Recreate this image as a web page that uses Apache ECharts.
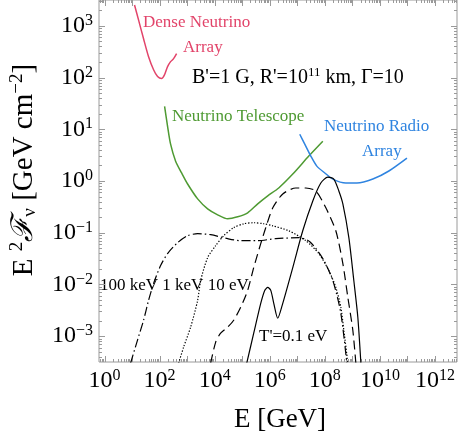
<!DOCTYPE html>
<html><head><meta charset="utf-8">
<script src="https://cdn.jsdelivr.net/npm/echarts@6/dist/echarts.min.js"></script>
<style>html,body{margin:0;padding:0;background:#fff}#c{width:459px;height:438px}</style>
</head><body><div id="c"></div>
<script>
// ---- data (E in GeV, E^2 F in GeV cm^-2) ----
const denseE = [12.3, 17.2, 26.2, 39.8, 60.5, 84.6, 118, 152, 195, 251, 323, 415];
const denseF = [2535, 1304, 562, 253, 142, 105, 95.7, 114, 163, 203, 232, 290];

const telE = [152, 195, 251, 382, 631, 1042, 2410, 5560, 12850, 29700, 68600, 158000, 366000, 846000, 2.12e6, 6.86e6, 2.62e7, 8.46e7];
const telF = [27.7, 11.4, 5.15, 2.42, 1.43, 0.875, 0.451, 0.29, 0.222, 0.186, 0.203, 0.243, 0.361, 0.515, 0.733, 1.36, 3.03, 5.87];

const radioE = [1.23e7, 1.87e7, 3.1e7, 5.12e7, 1.0e8, 1.95e8, 5.8e8, 1.46e9, 5.56e9, 2.12e10, 9.6e10];
const radioF = [8.01, 5.15, 3.03, 1.94, 1.43, 1.09, 0.915, 0.915, 1.09, 1.56, 2.77];

const t01E = [1.46e5, 2.62e5, 4.71e5, 6.58e5, 8.46e5, 1.09e6, 1.4e6, 1.95e6, 2.97e6, 6.86e6, 1.58e7, 3.66e7, 7.16e7, 1.29e8, 2.12e8, 3.23e8, 4.52e8, 7.46e8, 1.13e9, 1.58e9, 2.04e9];
const t01F = [3.0e-4, 1.14e-3, 4.31e-3, 7.67e-3, 8.75e-3, 7.67e-3, 4.31e-3, 2.22e-3, 4.31e-3, 0.0212, 0.109, 0.412, 0.915, 1.19, 1.09, 0.642, 0.361, 0.0801, 0.0119, 2.32e-3, 3.0e-4];

const t10E = [7160, 10900, 16500, 29700, 49100, 88200, 158000, 262000, 471000, 716000, 1.29e6, 2.97e6, 8.82e6, 2.04e7, 4.71e7, 1.09e8, 2.51e8, 4.52e8, 6.86e8, 1.04e9, 1.34e9];
const t10F = [3.0e-4, 7.67e-4, 1.14e-3, 1.49e-3, 2.03e-3, 3.61e-3, 7.67e-3, 0.0212, 0.0614, 0.125, 0.303, 0.562, 0.733, 0.733, 0.642, 0.303, 0.109, 0.0253, 5.62e-3, 1.3e-3, 3.0e-4];

const t1kE = [491, 746, 1340, 2410, 3100, 5560, 10900, 21200, 49100, 113000, 262000, 605000, 1.29e6, 4.91e6, 2.04e7, 6.05e7, 1.4e8, 2.51e8, 3.82e8, 4.91e8, 6.86e8];
const t1kF = [3.0e-4, 6.14e-4, 1.49e-3, 4.92e-3, 0.0119, 0.033, 0.0562, 0.0875, 0.125, 0.149, 0.156, 0.149, 0.136, 0.109, 0.0702, 0.0395, 0.0186, 8.75e-3, 3.61e-3, 1.3e-3, 3.0e-4];

const t100kE = [8.82, 15.8, 26.2, 39.8, 60.5, 109, 195, 452, 1042, 2410, 7160, 29700, 88200, 366000, 1.65e6, 1.14e7, 2.85e7, 8.46e7, 1.95e8, 3.82e8, 6.3e8];
const t100kF = [3.0e-4, 8.38e-4, 2.03e-3, 4.92e-3, 0.0104, 0.0232, 0.0395, 0.0642, 0.0875, 0.0957, 0.0916, 0.0767, 0.0702, 0.0702, 0.0767, 0.0801, 0.0671, 0.0316, 0.0119, 2.77e-3, 3.0e-4];

// axis ticks (exponents)
const xMajorExp = [0,1,2,3,4,5,6,7,8,9,10,11,12];
const xLabelExp = [0,2,4,6,8,10,12];
const yMajorExp = [-3,-2,-1,0,1,2,3];
const yLabelExp = [-3,-2,-1,0,1,2,3];
const minorMult = [2,3,4,5,6,7,8,9];

const X_MIN = Math.pow(10, -0.2), X_MAX = Math.pow(10, 12.8);
const Y_MIN = Math.pow(10, -3.5), Y_MAX = Math.pow(10, 3.5);

const FONT = "'Liberation Serif','DejaVu Serif',serif";
const zip = (a, b) => a.map((v, i) => [v, b[i]]);

// tick list
const ticks = [];
xMajorExp.forEach(e => {
  ticks.push({ax: 'x', v: Math.pow(10, e), len: 6});
  minorMult.forEach(m => { const v = m * Math.pow(10, e); if (v < X_MAX) ticks.push({ax: 'x', v: v, len: 3}); });
});
minorMult.forEach(m => { const v = m * Math.pow(10, -1); if (v > X_MIN) ticks.push({ax: 'x', v: v, len: 3}); });
yMajorExp.forEach(e => {
  ticks.push({ax: 'y', v: Math.pow(10, e), len: 6});
  minorMult.forEach(m => { const v = m * Math.pow(10, e); if (v < Y_MAX) ticks.push({ax: 'y', v: v, len: 3}); });
});
minorMult.forEach(m => { const v = m * Math.pow(10, -4); if (v > Y_MIN) ticks.push({ax: 'y', v: v, len: 3}); });

const labels = [];
xLabelExp.forEach(e => labels.push({ax: 'x', e: e}));
yLabelExp.forEach(e => labels.push({ax: 'y', e: e}));

const tickColor = '#9a9a9a';
const supTxt = e => (e < 0 ? '\u2212' + (-e) : '' + e);
const labelRich = {
  b: {fontFamily: FONT, fontSize: 24, lineHeight: 26, verticalAlign: 'middle', color: '#000'},
  s: {fontFamily: FONT, fontSize: 16, lineHeight: 14, verticalAlign: 'top', color: '#000'}
};

const chart = echarts.init(document.getElementById('c'), null, {renderer: 'canvas'});

function lineSeries(name, E, F, color, type, width) {
  return {
    name: name, type: 'line', data: zip(E, F), showSymbol: false, smooth: 0.25,
    lineStyle: {color: color, width: width, type: type}, silent: true, animation: false, z: 3
  };
}

chart.setOption({
  animation: false,
  grid: {left: 99, right: 2, top: 0, bottom: 76, show: true, borderColor: tickColor, borderWidth: 1, backgroundColor: 'transparent'},
  xAxis: {type: 'log', logBase: 10, min: X_MIN, max: X_MAX,
    axisLine: {show: false}, axisTick: {show: false}, axisLabel: {show: false}, splitLine: {show: false}},
  yAxis: {type: 'log', logBase: 10, min: Y_MIN, max: Y_MAX,
    axisLine: {show: false}, axisTick: {show: false}, axisLabel: {show: false}, splitLine: {show: false}},
  series: [
    lineSeries('Dense Neutrino Array', denseE, denseF, '#e2446a', 'solid', 1.5),
    lineSeries('Neutrino Telescope', telE, telF, '#4e9a32', 'solid', 1.5),
    lineSeries('Neutrino Radio Array', radioE, radioF, '#2f84e0', 'solid', 1.5),
    lineSeries("T'=0.1 eV", t01E, t01F, '#000', 'solid', 1.2),
    lineSeries('10 eV', t10E, t10F, '#000', [9, 5], 1.2),
    lineSeries('1 keV', t1kE, t1kF, '#000', [1.3, 1.7], 1.2),
    lineSeries('100 keV', t100kE, t100kF, '#000', [9, 3, 1.5, 3], 1.2),
    {
      type: 'custom', name: 'ticks', coordinateSystem: 'cartesian2d', clip: false, silent: true, z: 2,
      data: ticks.map((t, i) => [i]),
      renderItem: function (params, api) {
        const t = ticks[params.dataIndex];
        const st = {stroke: tickColor, lineWidth: 1};
        if (t.ax === 'x') {
          const b = api.coord([t.v, Y_MIN]), tp = api.coord([t.v, Y_MAX]);
          const x = Math.round(b[0]) + 0.5;
          return {type: 'group', children: [
            {type: 'line', shape: {x1: x, y1: b[1], x2: x, y2: b[1] - t.len}, style: st},
            {type: 'line', shape: {x1: x, y1: tp[1], x2: x, y2: tp[1] + t.len}, style: st}
          ]};
        } else {
          const l = api.coord([X_MIN, t.v]), r = api.coord([X_MAX, t.v]);
          const y = Math.round(l[1]) + 0.5;
          return {type: 'group', children: [
            {type: 'line', shape: {x1: l[0], y1: y, x2: l[0] + t.len, y2: y}, style: st},
            {type: 'line', shape: {x1: r[0], y1: y, x2: r[0] - t.len, y2: y}, style: st}
          ]};
        }
      }
    },
    {
      type: 'custom', name: 'tickLabels', coordinateSystem: 'cartesian2d', clip: false, silent: true, z: 2,
      data: labels.map((t, i) => [i]),
      renderItem: function (params, api) {
        const t = labels[params.dataIndex];
        const txt = '{b|10}{s|' + supTxt(t.e) + '}';
        if (t.ax === 'x') {
          const p = api.coord([Math.pow(10, t.e), Y_MIN]);
          return {type: 'text', x: p[0], y: p[1] + 19,
            style: {text: txt, rich: labelRich, align: 'center', verticalAlign: 'middle'}};
        } else {
          const p = api.coord([X_MIN, Math.pow(10, t.e)]);
          return {type: 'text', x: p[0] - 6, y: p[1],
            style: {text: txt, rich: labelRich, align: 'right', verticalAlign: 'middle'}};
        }
      }
    }
  ],
  graphic: [
    {type: 'text', left: 143, top: 14, style: {text: 'Dense Neutrino', font: '17px ' + FONT, fill: '#e2446a'}},
    {type: 'text', left: 183, top: 39, style: {text: 'Array', font: '17px ' + FONT, fill: '#e2446a'}},
    {type: 'text', left: 192, top: 66, style: {
      text: "{a|B'=1 G, R'=10}{s|11}{a| km, \u0393=10}",
      rich: {a: {fontFamily: FONT, fontSize: 20, lineHeight: 24, color: '#000'},
             s: {fontFamily: FONT, fontSize: 13, lineHeight: 14, verticalAlign: 'top', color: '#000'}}}},
    {type: 'text', left: 172, top: 108, style: {text: 'Neutrino Telescope', font: '17px ' + FONT, fill: '#4e9a32'}},
    {type: 'text', left: 324, top: 118, style: {text: 'Neutrino Radio', font: '17px ' + FONT, fill: '#2f84e0'}},
    {type: 'text', left: 362, top: 143, style: {text: 'Array', font: '17px ' + FONT, fill: '#2f84e0'}},
    {type: 'text', left: 100, top: 277, style: {text: '100 keV 1 keV 10 eV', font: '17px ' + FONT, fill: '#000'}},
    {type: 'text', left: 259, top: 328, style: {text: "T'=0.1 eV", font: '17px ' + FONT, fill: '#000'}},
    {type: 'text', x: 280, y: 420, style: {text: 'E [GeV]', font: '27px ' + FONT, fill: '#000', align: 'center', verticalAlign: 'middle'}},
    {type: 'text', x: 24, y: 170, rotation: Math.PI / 2, style: {
      text: '{t|E }{sp|2}{f|\u2131}{sb|\u03bd}{t| [GeV cm}{sp|\u22122}{t|]}',
      align: 'center', verticalAlign: 'middle',
      rich: {
        t: {fontFamily: FONT, fontSize: 29, lineHeight: 32, color: '#000'},
        f: {fontFamily: FONT, fontSize: 30, lineHeight: 32, fontStyle: 'italic', color: '#000'},
        sp: {fontFamily: FONT, fontSize: 19, lineHeight: 18, verticalAlign: 'top', color: '#000'},
        sb: {fontFamily: FONT, fontSize: 19, lineHeight: 18, verticalAlign: 'bottom', color: '#000'}
      }}}
  ]
});
</script>
</body></html>
